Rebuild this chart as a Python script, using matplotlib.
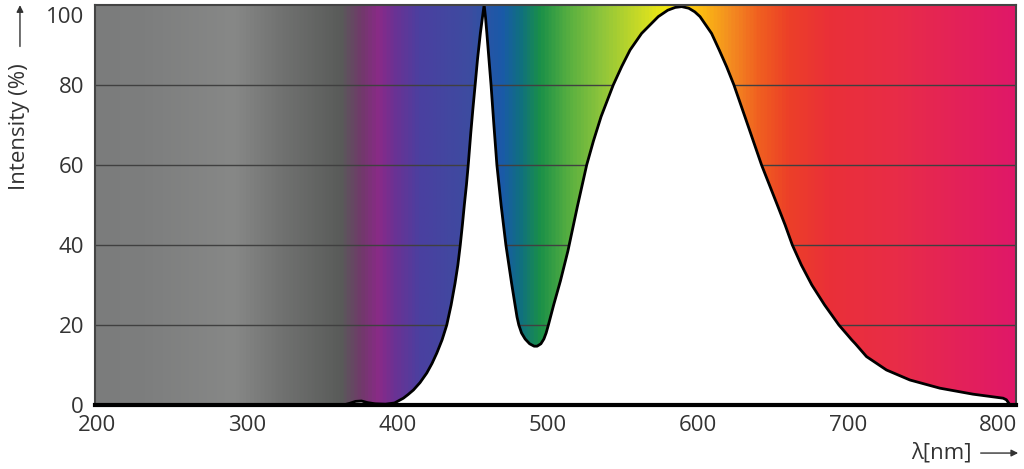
import numpy as np
import matplotlib
matplotlib.use("Agg")
import matplotlib.pyplot as plt
from matplotlib.colors import LinearSegmentedColormap
from matplotlib.transforms import ScaledTranslation

plt.rcParams["font.family"] = ["Open Sans", "DejaVu Sans"]

# spectrum of the lamp (wavelength nm, relative intensity %)
wavelength = [200, 364, 368, 372, 376, 380, 385, 392, 398, 403.9, 407, 410.6, 415,
              419.5, 423, 426.2, 429.7, 432.8, 435.7, 438.3, 440.2, 441.8, 443.2,
              444.5, 445.9, 447.1, 448.8, 450.2, 451.7, 453.3, 455.2, 456.6, 457.7,
              458.6, 459.5, 460.9, 462.3, 464.2, 466.2, 469, 472.2, 476, 478.3,
              479.6, 480.8, 482.6, 485, 488, 491, 493, 495.5, 497.5, 499, 500.5,
              504, 508.5, 513.5, 519.8, 526, 530.5, 535.6, 543.7, 549.3, 554.9,
              562.6, 573.7, 580, 585, 589.3, 594, 598, 601.5, 609.2, 614.3, 619.2,
              624.1, 631.4, 642.5, 653, 658.2, 663, 669, 676, 684.5, 694, 700,
              702.5, 705, 712.4, 725.7, 741.3, 761.3, 783.4, 803.4, 805.6, 808]
intensity = [0, 0, 0.4, 0.9, 1.0, 0.6, 0.3, 0.2, 0.5, 1.7, 2.6, 3.75, 5.6,
             8, 10.4, 13, 16.3, 20, 25, 30.4, 35, 40, 45,
             50, 55, 60, 68, 74, 80, 86.5, 93, 97, 100,
             97, 93, 86.5, 80, 70, 60, 50, 40, 30.4, 25,
             22, 20, 18, 16.5, 15.3, 14.7, 14.7, 15.3, 16.5, 18, 20,
             25, 31, 38.5, 49.6, 60, 66, 72.1, 80, 84.6, 88.75,
             92.9, 97.1, 98.7, 99.4, 99.6, 99.2, 98.3, 97.1, 92.9, 88.75, 84.6,
             80, 72.1, 60, 50, 45, 40, 35, 30, 25, 20, 17.4,
             16.3, 15.3, 12.1, 8.75, 6.25, 4.2, 2.7, 1.7, 1.3, 0]

# background colour bands along the wavelength axis
band_nm = [198.5, 230, 290, 320, 362, 375, 387, 398, 415, 448, 462, 470, 482, 495,
           515, 535, 568, 578, 601, 621, 641, 661, 688, 735, 812]
band_col = ["#7b7c7c", "#7d7e7e", "#878887", "#727372", "#595b59", "#703a6a",
            "#8a2a88", "#6a3294", "#4a40a0", "#3d4ca0", "#2456a6", "#1a5aa8",
            "#107080", "#1a9048", "#5ab040", "#8cc43c", "#d8e020", "#f0e810",
            "#fcc010", "#f49020", "#f06020", "#ec4028", "#ea3038", "#e82c48",
            "#e01868"]

yticks = [0, 20, 40, 60, 80, 100]
xticks = [200, 300, 400, 500, 600, 700, 800]

x0, x1 = 198.5, 812
y0, y1 = 0, 100

fig = plt.figure(figsize=(10.24, 4.69), dpi=100)
ax = fig.add_axes([0.0928, 0.1365, 0.8994, 0.8528])

pos = [(b - x0) / (x1 - x0) for b in band_nm]
pos[0], pos[-1] = 0.0, 1.0
cmap = LinearSegmentedColormap.from_list("spec", list(zip(pos, band_col)))
grad = np.linspace(0, 1, 1200).reshape(1, -1)
ax.imshow(grad, cmap=cmap, extent=(x0, x1, y0, y1), aspect="auto", zorder=1,
          interpolation="bilinear")

for g in yticks[1:-1]:
    ax.axhline(g, color="#404040", lw=1.0, zorder=2)

ax.fill_between(wavelength, intensity, 0, color="white", lw=0, zorder=3)
ax.plot(wavelength, intensity, color="black", lw=2, zorder=4,
        solid_joinstyle="round", solid_capstyle="round")

ax.set_xlim(x0, x1)
ax.set_ylim(y0, y1)
ax.set_xticks(xticks)
ax.set_yticks(yticks)
ax.tick_params(length=0, labelsize=16, labelcolor="#333333")
ax.tick_params(axis="x", pad=7)
ax.tick_params(axis="y", pad=8)
# top label sits a little below the frame, as in the original
lab = ax.get_yticklabels()[-1]
lab.set_transform(lab.get_transform() + ScaledTranslation(0, -0.1, fig.dpi_scale_trans))

for s in ["left", "top", "right"]:
    ax.spines[s].set_color("#444444")
    ax.spines[s].set_linewidth(1.5)
ax.spines["bottom"].set_color("black")
ax.spines["bottom"].set_linewidth(3)
for s in ax.spines.values():
    s.set_zorder(5)

fig.text(0.0195, 0.729, "Intensity (%)", rotation=90, ha="center", va="center",
         fontsize=16, color="#333333")
ax.annotate("", xy=(0.0195, 0.995), xytext=(0.0195, 0.895), xycoords="figure fraction",
            arrowprops=dict(arrowstyle="-|>", color="#333333", lw=1.0,
                            mutation_scale=10))
fig.text(0.919, 0.034, "λ[nm]", ha="center", va="center", fontsize=16,
         color="#333333")
ax.annotate("", xy=(0.997, 0.034), xytext=(0.955, 0.034), xycoords="figure fraction",
            arrowprops=dict(arrowstyle="-|>", color="#333333", lw=1.0,
                            mutation_scale=10))

fig.savefig("out.png", dpi=100)
